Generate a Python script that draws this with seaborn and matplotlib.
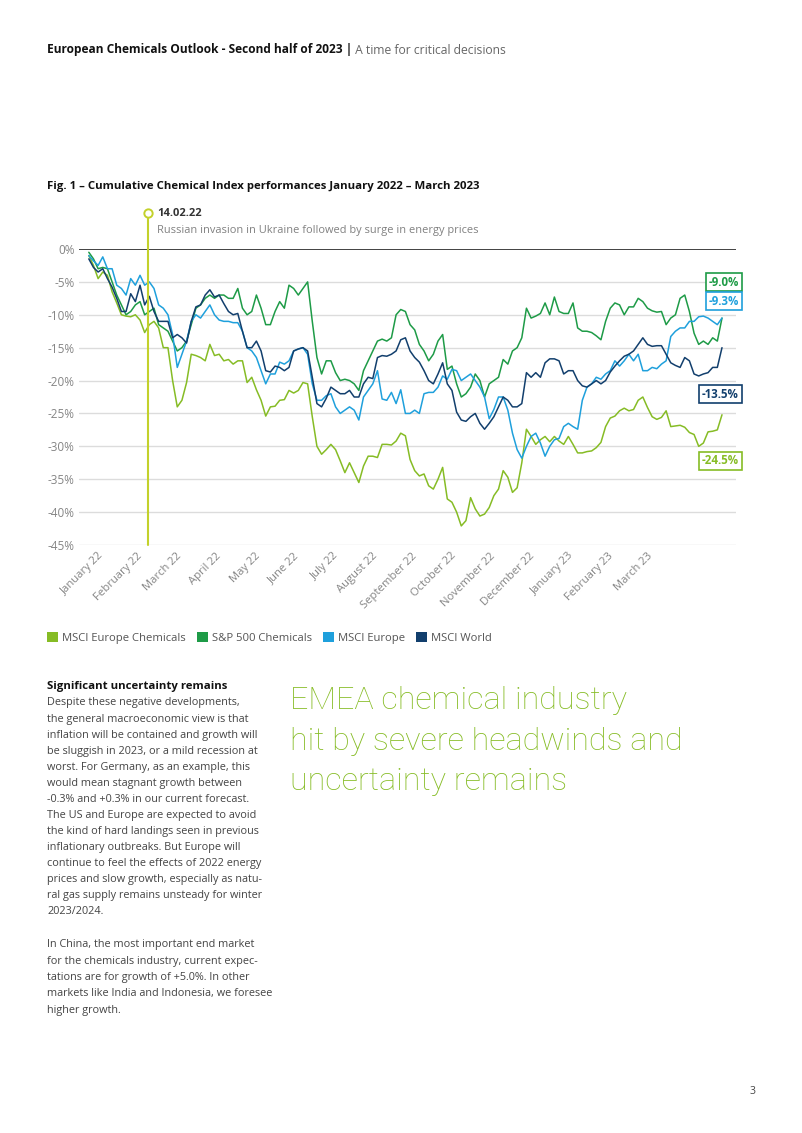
import pandas as pd
import matplotlib.pyplot as plt
from matplotlib.patches import Patch
from matplotlib.transforms import ScaledTranslation
import seaborn as sns


## DATOS ##

# 137 puntos (dos por semana aprox.), enero 2022 - marzo 2023, en %
dates = pd.date_range('2022-01-03', '2023-03-31', periods=137)

msci_europe_chemicals = [
    -1.0, -2.5, -4.5, -3.5, -4.0, -6.5, -8.2, -10.0, -10.2, -10.3,
    -10.0, -10.8, -12.7, -11.5, -11.0, -12.0, -15.0, -15.0, -20.0, -24.0,
    -23.0, -20.3, -16.0, -16.2, -16.5, -17.0, -14.5, -16.2, -16.0, -17.0,
    -16.8, -17.5, -17.0, -17.0, -20.3, -19.5, -21.4, -23.0, -25.4, -24.0,
    -23.9, -23.0, -22.9, -21.5, -21.9, -21.5, -20.3, -20.5, -25.5, -30.0,
    -31.2, -30.5, -29.7, -30.5, -32.2, -34.0, -32.5, -34.0, -35.5, -33.0,
    -31.5, -31.5, -31.7, -29.7, -29.7, -29.8, -29.2, -28.0, -28.4, -32.0,
    -33.7, -34.5, -34.2, -36.0, -36.5, -35.0, -33.2, -38.0, -38.5, -40.0,
    -42.1, -41.3, -37.8, -39.5, -40.6, -40.3, -39.3, -37.5, -36.5, -33.7,
    -34.7, -37.0, -36.3, -32.5, -27.4, -28.5, -29.7, -29.0, -28.5, -29.3,
    -28.5, -29.2, -29.7, -28.5, -29.7, -31.0, -31.0, -30.8, -30.7, -30.2,
    -29.4, -27.0, -25.7, -25.4, -24.6, -24.2, -24.6, -24.4, -23.0, -22.5,
    -24.1, -25.5, -25.9, -25.6, -24.6, -27.0, -26.9, -26.8, -27.1, -27.9,
    -28.2, -30.0, -29.5, -27.8, -27.7, -27.5, -25.2]

sp500_chemicals = [
    -0.5, -1.5, -3.0, -2.8, -3.0, -5.0, -7.0, -8.5, -10.0, -9.5,
    -8.5, -8.0, -10.0, -9.5, -9.0, -11.5, -12.0, -12.5, -14.0, -15.5,
    -15.0, -14.0, -11.5, -9.0, -8.5, -7.5, -7.0, -7.5, -7.0, -7.0,
    -7.5, -7.5, -6.0, -9.0, -10.0, -9.5, -7.0, -9.0, -11.5, -11.5,
    -9.5, -8.0, -9.0, -5.5, -6.0, -7.0, -6.0, -5.0, -11.0, -16.5,
    -19.0, -17.0, -17.0, -18.8, -20.0, -19.8, -20.0, -20.5, -21.5, -18.5,
    -17.0, -15.5, -14.0, -13.7, -14.0, -13.5, -10.0, -9.2, -9.5, -11.5,
    -12.3, -14.5, -15.5, -17.0, -16.0, -14.0, -13.0, -18.3, -17.8, -20.5,
    -22.5, -22.0, -21.0, -19.0, -20.0, -22.5, -20.5, -20.0, -19.5, -16.8,
    -17.5, -15.5, -15.0, -13.5, -9.0, -10.5, -10.2, -9.8, -8.2, -10.0,
    -7.3, -9.5, -9.8, -9.8, -8.2, -12.0, -12.5, -12.5, -12.7, -13.2,
    -13.8, -11.0, -9.0, -8.2, -8.5, -10.0, -8.8, -8.8, -7.5, -8.0,
    -9.0, -9.4, -9.6, -9.5, -11.5, -10.5, -10.0, -7.5, -7.0, -9.5,
    -12.8, -14.5, -14.0, -14.5, -13.5, -14.0, -10.5]

msci_europe = [
    -1.0, -1.8, -2.5, -1.2, -3.0, -3.0, -5.5, -6.0, -7.0, -4.5,
    -5.5, -4.0, -5.5, -5.0, -6.0, -8.5, -9.0, -10.0, -13.0, -18.0,
    -16.0, -14.0, -11.0, -10.0, -10.5, -9.5, -8.5, -10.0, -10.8, -11.0,
    -11.0, -11.2, -11.2, -12.5, -15.0, -15.5, -16.5, -18.5, -20.5, -19.0,
    -19.0, -17.2, -17.5, -17.0, -15.5, -15.2, -15.0, -16.0, -20.5, -23.0,
    -23.0, -22.3, -22.0, -24.0, -25.0, -24.5, -24.0, -24.5, -26.0, -22.5,
    -21.5, -20.5, -18.5, -22.8, -23.0, -21.8, -23.5, -21.4, -25.0, -25.0,
    -24.5, -25.0, -22.0, -21.8, -21.8, -21.0, -19.3, -19.8, -18.3, -18.5,
    -20.0, -19.5, -19.0, -20.0, -21.0, -22.5, -25.8, -24.4, -22.5, -22.5,
    -24.5, -28.0, -30.5, -31.8, -30.0, -28.5, -28.0, -29.5, -31.5, -30.0,
    -29.0, -28.8, -27.0, -26.5, -27.0, -27.4, -23.0, -21.0, -20.5, -19.5,
    -19.8, -19.0, -18.5, -17.0, -17.8, -17.0, -16.0, -17.0, -16.0, -18.5,
    -18.5, -18.0, -18.2, -17.5, -17.0, -13.3, -12.5, -12.0, -12.0, -11.0,
    -11.0, -10.3, -10.2, -10.5, -11.0, -11.5, -10.5]

msci_world = [
    -1.5, -2.8, -3.5, -3.0, -4.5, -5.8, -7.5, -9.5, -9.5, -6.8,
    -8.0, -5.5, -8.5, -7.2, -9.5, -11.0, -11.0, -11.0, -13.5, -13.0,
    -13.5, -14.3, -11.0, -8.8, -8.5, -7.0, -6.2, -7.3, -7.0, -8.3,
    -9.5, -10.0, -9.8, -12.5, -15.0, -15.0, -14.0, -15.5, -18.5, -18.7,
    -17.8, -18.0, -18.5, -18.0, -15.5, -15.2, -15.0, -15.5, -19.5, -23.5,
    -24.0, -22.7, -21.0, -21.5, -22.0, -22.0, -21.5, -22.5, -22.5, -20.5,
    -19.5, -19.7, -16.5, -16.2, -16.3, -16.0, -15.5, -13.8, -13.5, -15.5,
    -16.5, -17.2, -18.5, -20.0, -20.5, -19.0, -17.3, -20.5, -21.5, -24.8,
    -26.0, -26.2, -25.5, -25.0, -26.5, -27.4, -26.5, -25.5, -24.0, -22.5,
    -23.0, -24.0, -24.0, -23.5, -18.8, -19.5, -18.8, -19.5, -17.3, -16.7,
    -16.7, -17.0, -19.0, -18.5, -18.5, -20.0, -20.8, -21.0, -20.5, -20.0,
    -20.5, -20.0, -18.7, -17.8, -17.0, -16.3, -16.0, -15.5, -14.5, -13.5,
    -14.5, -14.8, -14.7, -14.7, -16.0, -17.3, -17.7, -18.0, -16.5, -17.0,
    -19.0, -19.3, -19.0, -18.8, -18.0, -18.0, -15.0]

series_names = ['MSCI Europe Chemicals', 'S&P 500 Chemicals', 'MSCI Europe', 'MSCI World']
series_colors = ['#86bc25', '#1e9b47', '#1fa0dc', '#123f6d']
end_labels = ['-24.5%', '-9.0%', '-9.3%', '-13.5%']

month_labels = ['January 22', 'February 22', 'March 22', 'April 22', 'May 22', 'June 22',
                'July 22', 'August 22', 'September 22', 'October 22', 'November 22',
                'December 22', 'January 23', 'February 23', 'March 23']
y_ticks = [0, -5, -10, -15, -20, -25, -30, -35, -40, -45]

event_date = pd.Timestamp('2022-02-14')
event_title = '14.02.22'
event_text = 'Russian invasion in Ukraine followed by surge in energy prices'

header_bold = 'European Chemicals Outlook - Second half of 2023 |'
header_light = ' A time for critical decisions'
fig_title = 'Fig. 1 \u2013 Cumulative Chemical Index performances January 2022 \u2013 March 2023'

body_title = 'Significant uncertainty remains'
body_par1 = [
    'Despite these negative developments,',
    'the general macroeconomic view is that',
    'inflation will be contained and growth will',
    'be sluggish in 2023, or a mild recession at',
    'worst. For Germany, as an example, this',
    'would mean stagnant growth between',
    '-0.3% and +0.3% in our current forecast.',
    'The US and Europe are expected to avoid',
    'the kind of hard landings seen in previous',
    'inflationary outbreaks. But Europe will',
    'continue to feel the effects of 2022 energy',
    'prices and slow growth, especially as natu-',
    'ral gas supply remains unsteady for winter',
    '2023/2024.']
body_par2 = [
    'In China, the most important end market',
    'for the chemicals industry, current expec-',
    'tations are for growth of +5.0%. In other',
    'markets like India and Indonesia, we foresee',
    'higher growth.']
big_heading = ['EMEA chemical industry', 'hit by severe headwinds and', 'uncertainty remains']


## FIGURA ##

W, H = 802, 1133

def fx(px):
    return px / W

def fy(py):
    return 1 - py / H

sns.set_theme(style='white')
plt.rcParams['font.family'] = ['Open Sans', 'DejaVu Sans']

fig = plt.figure(figsize=(W / 100, H / 100), dpi=100)
fig.patch.set_facecolor('white')
ax = fig.add_axes([fx(79), fy(545), (736 - 79) / W, (545 - 249) / H])

df = pd.DataFrame({'date': dates,
                   series_names[0]: msci_europe_chemicals,
                   series_names[1]: sp500_chemicals,
                   series_names[2]: msci_europe,
                   series_names[3]: msci_world})
df_long = df.melt(id_vars='date', var_name='index', value_name='value')

sns.lineplot(data=df_long, x='date', y='value', hue='index', hue_order=series_names,
             palette=series_colors, linewidth=1.1, legend=False, ax=ax, clip_on=False)

# ejes
ax.set_xlim(pd.Timestamp('2021-12-27'), pd.Timestamp('2023-04-10'))
ax.set_ylim(-45, 0)
for s in ax.spines.values():
    s.set_visible(False)
ax.set_xlabel('')
ax.set_ylabel('')

ax.set_yticks(y_ticks)
ax.set_yticklabels([f'{v}%' for v in y_ticks])
for v in y_ticks:
    if v == 0:
        ax.axhline(v, color='#333333', lw=1.3, zorder=1)
    else:
        ax.axhline(v, color='#dcdcdc', lw=1.0, zorder=0)
ax.tick_params(axis='y', length=0, pad=3, labelsize=8.5, labelcolor='#858585')

tick_pos = pd.bdate_range('2022-01-03', periods=281)[::20]
ax.set_xticks(tick_pos)
ax.set_xticklabels(month_labels)
ax.tick_params(axis='x', length=0, pad=4, labelsize=8.1, labelcolor='#858585')
offset = ScaledTranslation(9 / 100, 0, fig.dpi_scale_trans)
for lbl in ax.get_xticklabels():
    lbl.set_rotation(45)
    lbl.set_ha('right')
    lbl.set_va('top')
    lbl.set_rotation_mode('anchor')
    lbl.set_transform(lbl.get_transform() + offset)

# evento
ev_color = '#c3d12b'
ax.plot([event_date, event_date], [-45, 5.4], color=ev_color, lw=1.5, clip_on=False, zorder=5)
ax.plot([event_date], [5.4], marker='o', ms=6, mfc='white', mec=ev_color, mew=1.4,
        clip_on=False, zorder=6)
fig.text(fx(157), fy(213), event_title, weight='bold', size=8, color='#333333', va='center')
fig.text(fx(157), fy(230), event_text, size=7.9, color='#808080', va='center')

# etiquetas finales
end_pos = [461, 282, 301, 394]
for lab, col, py in zip(end_labels, series_colors, end_pos):
    fig.text(fx(739), fy(py), lab, ha='right', va='center', size=8.3, weight='bold', color=col,
             bbox=dict(boxstyle='square,pad=0.25', fc='white', ec=col, lw=1.2))

# leyenda
handles = [Patch(facecolor=c, edgecolor='none', label=n) for n, c in zip(series_names, series_colors)]
fig.legend(handles=handles, loc='center left', bbox_to_anchor=(fx(47), fy(638)), ncol=4,
           frameon=False, fontsize=8.1, handlelength=1.0, handleheight=1.0,
           handletextpad=0.35, columnspacing=0.95, borderpad=0, borderaxespad=0,
           labelcolor='#555555')

# textos de pagina
t1 = fig.text(fx(47), fy(50), header_bold, weight='bold', size=8.6, color='#111111', va='center')
ax.annotate(header_light, xy=(1, 0.5), xycoords=t1, va='center', ha='left', size=8.7,
            color='#666666', annotation_clip=False)
fig.text(fx(47), fy(187), fig_title, weight='bold', size=8.2, color='#111111', va='center')

fig.text(fx(47), fy(687), body_title, weight='bold', size=8.2, color='#111111', va='center')
for i, line in enumerate(body_par1):
    fig.text(fx(47), fy(703 + 16.05 * i), line, size=7.8, color='#444444', va='center')
for i, line in enumerate(body_par2):
    fig.text(fx(47), fy(945 + 16.25 * i), line, size=7.8, color='#444444', va='center')

for i, line in enumerate(big_heading):
    fig.text(fx(290), fy(709 + 40.5 * i), line, size=23.2, color='#86bc25',
             va='baseline', family=['Roboto', 'Open Sans'], weight='light')

fig.text(fx(752), fy(1091), '3', size=7.5, color='#444444', va='center', ha='center')

fig.savefig('out.png', dpi=100, facecolor='white')
